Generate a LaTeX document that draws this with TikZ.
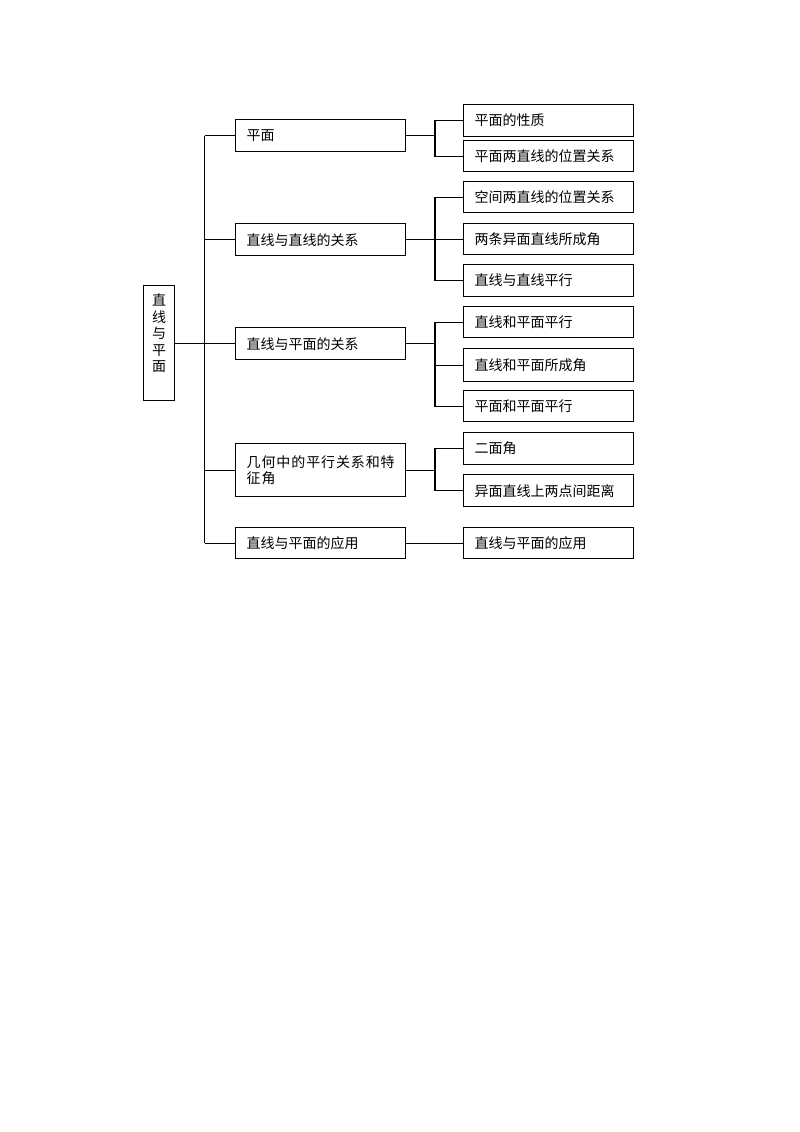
\documentclass[tikz,border=0pt]{standalone}
\usepackage{fontspec}
\setmainfont{Noto Sans CJK SC}
\newcommand\cjch[1]{\makebox[14.9pt][l]{#1}}
\begin{document}
\begin{tikzpicture}[x=1pt,y=-1pt,
  box/.style={draw, line width=1.3pt, anchor=north west, minimum width=170pt,
    text width=148pt, inner xsep=11pt, inner ysep=0pt, align=left,
    font=\fontsize{14}{16.6}\selectfont},
  conn/.style={line width=1.3pt}]
\useasboundingbox (0,0) rectangle (800,1132);
% root
\node[draw, line width=1.3pt, anchor=north west, minimum width=31pt, minimum height=115pt,
  inner sep=0pt, align=center, font=\fontsize{14}{16.6}\selectfont] (root) at (143,285)
  {直\\线\\与\\平\\面\\[4pt]\mbox{}};
% middle column
\node[box, minimum height=32pt] (m1) at (235,119) {平面};
\node[box, minimum height=32pt] (m2) at (235,223) {直线与直线的关系};
\node[box, minimum height=32pt] (m3) at (235,327) {直线与平面的关系};
\node[box, minimum height=53pt] (m4) at (235,443)
  {\cjch{几}\cjch{何}\cjch{中}\cjch{的}\cjch{平}\cjch{行}\cjch{关}\cjch{系}\cjch{和}特\\\cjch{征}角};
\node[box, minimum height=31pt] (m5) at (235,527) {直线与平面的应用};
% right column
\node[box, minimum height=32pt] (r1) at (463,104) {平面的性质};
\node[box, minimum height=31pt] (r2) at (463,140) {平面两直线的位置关系};
\node[box, minimum height=31pt] (r3) at (463,181) {空间两直线的位置关系};
\node[box, minimum height=31pt] (r4) at (463,223) {两条异面直线所成角};
\node[box, minimum height=32pt] (r5) at (463,264) {直线与直线平行};
\node[box, minimum height=31pt] (r6) at (463,306) {直线和平面平行};
\node[box, minimum height=33pt] (r7) at (463,348) {直线和平面所成角};
\node[box, minimum height=31pt] (r8) at (463,390) {平面和平面平行};
\node[box, minimum height=32pt] (r9) at (463,432) {二面角};
\node[box, minimum height=32pt] (r10) at (463,474) {异面直线上两点间距离};
\node[box, minimum height=31pt] (r11) at (463,527) {直线与平面的应用};
% trunk
\coordinate (tk) at (204.5,0);
\coordinate (bk) at (435,0);
\draw[conn] (root.east) -- (root.east -| tk);
\draw[conn] (m1.west -| tk) -- (m5.west -| tk);
\foreach \m in {m1,m2,m3,m4,m5}{\draw[conn] (\m.west -| tk) -- (\m.west);}
% branches
\foreach \m in {m1,m2,m3,m4}{\draw[conn] (\m.east) -- (\m.east -| bk);}
\draw[conn] (r1.west) -- (r1.west -| bk) -- (r2.west -| bk) -- (r2.west);
\draw[conn] (r3.west) -- (r3.west -| bk) -- (r5.west -| bk) -- (r5.west);
\draw[conn] (r4.west -| bk) -- (r4.west);
\draw[conn] (r6.west) -- (r6.west -| bk) -- (r8.west -| bk) -- (r8.west);
\draw[conn] (r7.west -| bk) -- (r7.west);
\draw[conn] (r9.west) -- (r9.west -| bk) -- (r10.west -| bk) -- (r10.west);
\draw[conn] (m5.east) -- (r11.west);
\end{tikzpicture}
\end{document}
